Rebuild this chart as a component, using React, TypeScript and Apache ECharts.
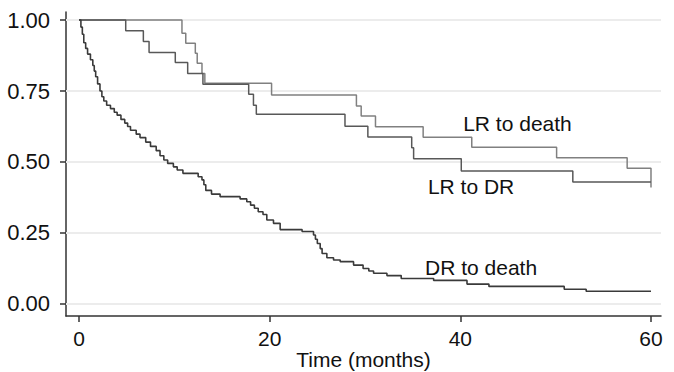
import React, { useEffect, useRef } from "react";
import * as echarts from "echarts";

const xTicks = [0, 20, 40, 60];
const yTicks = [0, 0.25, 0.5, 0.75, 1.0];

const lrDeathTimes = [0, 10.8, 11.2, 12.2, 12.4, 12.9, 13.2, 20.2, 29.1, 29.6, 31.1, 36.1, 41.2, 50.1, 57.5, 60];
const lrDeathSurv = [1.0, 0.953, 0.918, 0.883, 0.848, 0.812, 0.777, 0.736, 0.697, 0.662, 0.624, 0.587, 0.552, 0.515, 0.478, 0.41];

const lrDrTimes = [0, 4.9, 6.75, 7.35, 10.1, 11.4, 13.0, 17.8, 18.3, 18.6, 27.9, 30.3, 34.9, 35.1, 40.1, 51.8, 60];
const lrDrSurv = [1.0, 0.962, 0.924, 0.886, 0.85, 0.812, 0.774, 0.739, 0.7, 0.668, 0.626, 0.588, 0.55, 0.511, 0.468, 0.43, 0.43];

const drDeathTimes = [
  0, 0.2, 0.35, 0.5, 0.7, 0.9, 1.2, 1.45, 1.6, 1.75, 1.95, 2.2, 2.4, 2.6, 2.9, 3.3, 3.7, 4.0, 4.4, 4.8,
  5.1, 5.4, 6.0, 6.4, 7.0, 7.5, 8.1, 8.5, 8.9, 9.3, 9.9, 10.3, 10.9, 12.5, 12.9, 13.1, 13.3, 13.9, 14.8,
  16.9, 17.6, 18.0, 18.4, 18.8, 19.3, 19.7, 20.4, 21.1, 23.4, 24.6, 24.8, 25.0, 25.3, 25.5, 26.0, 26.7,
  27.4, 28.8, 29.8, 30.4, 30.9, 32.3, 33.8, 37.2, 40.7, 43.0, 50.9, 53.2, 60,
];
const drDeathSurv = [
  1.0, 0.975, 0.95, 0.92, 0.9, 0.88, 0.86, 0.84, 0.82, 0.8, 0.775, 0.75, 0.73, 0.715, 0.7, 0.688, 0.675, 0.665, 0.65, 0.637,
  0.625, 0.612, 0.598, 0.586, 0.57, 0.555, 0.54, 0.522, 0.507, 0.495, 0.483, 0.472, 0.46, 0.448, 0.437, 0.42, 0.4, 0.387, 0.378,
  0.37, 0.36, 0.348, 0.337, 0.325, 0.315, 0.296, 0.284, 0.262, 0.255, 0.243, 0.228, 0.213, 0.195, 0.178, 0.163, 0.155,
  0.149, 0.137, 0.125, 0.116, 0.108, 0.1, 0.09, 0.083, 0.07, 0.062, 0.052, 0.045, 0.045,
];

const labelNames = ["LR to death", "LR to DR", "DR to death"];
const labelCoords: [number, number][] = [
  [40.3, 0.637],
  [36.6, 0.415],
  [36.3, 0.13],
];

const zip = (t: number[], s: number[]) => t.map((v, i) => [v, s[i]]);

export default function App() {
  const ref = useRef<HTMLDivElement>(null);
  useEffect(() => {
    if (!ref.current) return;
    const chart = echarts.init(ref.current, null, { renderer: "svg" });
    const font = "'Liberation Sans', Arial, Helvetica, sans-serif";
    const lineSeries = (name: string, data: number[][], color: string, width: number) => ({
      name,
      type: "line",
      step: "end",
      data,
      showSymbol: false,
      symbol: "none",
      lineStyle: { color, width },
      z: 3,
      silent: true,
    });
    chart.setOption({
      animation: false,
      backgroundColor: "#ffffff",
      grid: { left: 66, right: 13, top: 12, bottom: 56, containLabel: false, outerBoundsMode: "none" },
      xAxis: {
        type: "value",
        min: -1.364,
        max: 61.05,
        name: "Time (months)",
        nameLocation: "middle",
        nameGap: 33,
        nameMoveOverlap: false,
        nameTextStyle: { color: "#111", fontSize: 21, fontFamily: font },
        axisLine: { show: true, onZero: false, lineStyle: { color: "#333", width: 1.5 } },
        axisTick: { show: true, customValues: xTicks, length: 6, lineStyle: { color: "#333", width: 1.5 } },
        axisLabel: {
          customValues: xTicks,
          color: "#111",
          fontSize: 21,
          fontFamily: font,
          margin: 12,
          formatter: (v: number) => String(v),
        },
        splitLine: { show: false },
      },
      yAxis: {
        type: "value",
        min: -0.0423,
        max: 1.0282,
        axisLine: { show: true, onZero: false, lineStyle: { color: "#333", width: 1.5 } },
        axisTick: { show: true, customValues: yTicks, length: 6, lineStyle: { color: "#333", width: 1.5 } },
        axisLabel: {
          customValues: yTicks,
          color: "#111",
          fontSize: 22,
          fontFamily: font,
          margin: 16,
          formatter: (v: number) => v.toFixed(2),
        },
        splitLine: { show: false },
      },
      series: [
        {
          type: "line",
          data: [],
          z: 1,
          silent: true,
          markLine: {
            z: 1,
            silent: true,
            symbol: "none",
            label: { show: false },
            lineStyle: { color: "#ececec", width: 2, type: "solid" },
            data: yTicks.map((v) => ({ yAxis: v })),
          },
        },
        lineSeries("LR to death", zip(lrDeathTimes, lrDeathSurv), "#808080", 1.5),
        lineSeries("LR to DR", zip(lrDrTimes, lrDrSurv), "#585858", 1.5),
        lineSeries("DR to death", zip(drDeathTimes, drDeathSurv), "#3a3a3a", 1.6),
        {
          type: "scatter",
          data: [],
          silent: true,
          markPoint: {
            silent: true,
            symbol: "circle",
            symbolSize: 0,
            label: {
              show: true,
              position: "right",
              distance: 0,
              color: "#111",
              fontSize: 21,
              fontFamily: font,
              formatter: (p: any) => p.name,
            },
            data: labelNames.map((n, i) => ({ name: n, coord: labelCoords[i] })),
          },
        },
      ],
    });
    return () => chart.dispose();
  }, []);
  return <div ref={ref} style={{ position: "absolute", left: 0, top: 0, width: 674, height: 372 }} />;
}
